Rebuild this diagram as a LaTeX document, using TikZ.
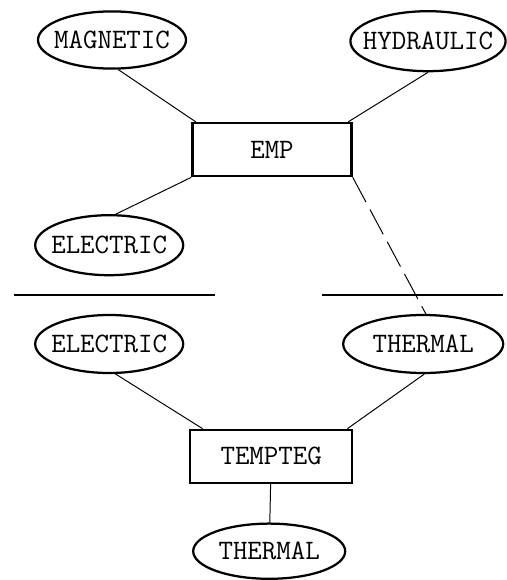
\documentclass[tikz,border=0pt]{standalone}
\usepackage{tikz}
\usetikzlibrary{shapes.geometric}

\tikzset{
	form/.style={draw, ellipse, line width=1.6pt, inner xsep=-30pt, inner ysep=0pt, font=\fontsize{20}{24}\selectfont\ttfamily},
	block/.style={draw, rectangle, line width=1.6pt, inner sep=0pt, font=\fontsize{20}{24}\selectfont\ttfamily},
	link/.style={line width=0.7pt}
}

\begin{document}
\begin{tikzpicture}
		\useasboundingbox (0,0) rectangle (12.65,-14.5);

		% upper unit and its energy forms
		\node (emp) at (6.8, -3.74) [block, minimum width=3.98cm, minimum height=1.33cm] {EMP};
		\node (mag) at (2.8, -1.0) [form, minimum width=3.7cm, minimum height=1.43cm] {MAGNETIC};
		\node (hyd) at (10.7, -1.03) [form, minimum width=3.88cm, minimum height=1.5cm] {HYDRAULIC};
		\node (elecA) at (2.73, -6.13) [form, minimum width=3.7cm, minimum height=1.5cm] {ELECTRIC};

		\draw [link] (mag.-78) -- (emp.160);
		\draw [link] (hyd.south) -- (emp.20);
		\draw [link] (emp.south west) -- (elecA.78);

		% separator
		\draw [line width=1pt] (0.35, -7.38) -- (5.38, -7.38);
		\draw [line width=1pt] (8.05, -7.38) -- (12.58, -7.38);

		% lower unit
		\node (teg) at (6.78, -11.41) [block, minimum width=4.05cm, minimum height=1.33cm] {TEMPTEG};
		\node (elecB) at (2.73, -8.6) [form, minimum width=3.7cm, minimum height=1.45cm] {ELECTRIC};
		\node (thermA) at (10.58, -8.6) [form, minimum width=4.0cm, minimum height=1.45cm] {THERMAL};
		\node (thermB) at (6.73, -13.78) [form, minimum width=3.8cm, minimum height=1.38cm] {THERMAL};

		\draw [link] (elecB.-78) -- (teg.158);
		\draw [link] (thermA.-88) -- (teg.20);
		\draw [link] (teg) -- (thermB);

		\draw [link, dash pattern=on 20pt off 6pt] (emp.south east) -- (thermA.85);

	\end{tikzpicture}
\end{document}
